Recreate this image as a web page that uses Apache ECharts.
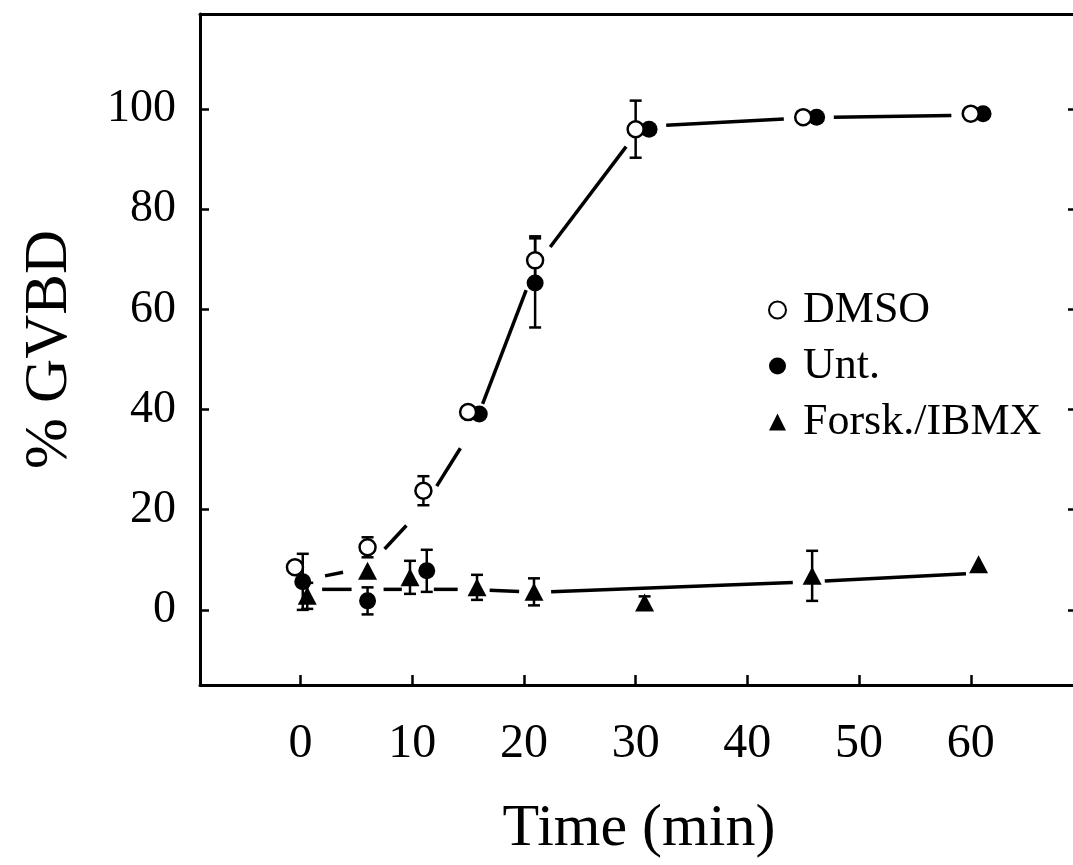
<!DOCTYPE html>
<html lang="en">
<head>
<meta charset="UTF-8">
<title>GVBD time course</title>
<script src="https://cdn.jsdelivr.net/npm/echarts@6/dist/echarts.min.js"></script>
</head>
<body style="margin:0; background:#fff">
<div id="container" style="width:1073px; height:865px"></div>
<script>
// measured points (time offsets kept as plotted, so markers sit side by side)
var dmsoTime = [-0.5, 6, 11, 15, 21, 30, 45, 60];
var dmsoGvbd = [8.5, 12.5, 23.8, 39.5, 69.8, 96, 98.4, 99.1];
var dmsoErr = [0, 2, 2.9, 0, 4.8, 5.7, 0, 0];

var untTime = [0.2, 6, 11.3, 16, 21, 31.2, 46.2, 61.1];
var untGvbd = [5.6, 1.8, 7.8, 39.1, 65.3, 96, 98.4, 99.1];
var untErr = [5.6, 2.7, 4.2, 0, 8.9, 0, 0, 0];

var forskTime = [0.6, 6, 9.8, 15.8, 20.9, 30.8, 45.8, 60.7];
var forskGvbd = [2.8, 7.8, 6.5, 4.5, 3.6, 1.5, 6.8, 9.1];
var forskErr = [2.6, 0, 3.3, 2.5, 2.7, 1.2, 5, 0];

// the two drawn curves (broken around each vertex)
var upperTime = [0, 6, 11, 15.5, 21, 30.5, 45.5, 60.5];
var upperGvbd = [5.8, 8.5, 20.5, 36.5, 68.5, 96.5, 98.3, 98.8];
var lowerTime = [0.5, 6, 10.5, 15.5, 21, 45.5, 61];
var lowerGvbd = [4.1, 4.1, 4.1, 4.1, 3.5, 5.6, 7.4];

var xTicks = [0, 10, 20, 30, 40, 50, 60];
var yTicks = [0, 20, 40, 60, 80, 100];

var serif = 'Liberation Serif';

function pairs(xs, ys) {
    return xs.map(function (x, i) { return [x, ys[i]]; });
}
function segments(xs, ys) {
    var out = [];
    for (var i = 0; i < xs.length - 1; i++) out.push([xs[i], ys[i], xs[i + 1], ys[i + 1]]);
    return out;
}
function bars(xs, ys, es) {
    var out = [];
    xs.forEach(function (x, i) { if (es[i] > 0) out.push([x, ys[i], es[i]]); });
    return out;
}

// line piece between two vertices, cut back by `gap` px at each end
function gapSegment(gap) {
    return function (params, api) {
        var p0 = api.coord([api.value(0), api.value(1)]);
        var p1 = api.coord([api.value(2), api.value(3)]);
        var dx = p1[0] - p0[0], dy = p1[1] - p0[1];
        var len = Math.sqrt(dx * dx + dy * dy);
        if (len <= 2 * gap) return;
        var ux = dx / len, uy = dy / len;
        return {
            type: 'line',
            shape: { x1: p0[0] + ux * gap, y1: p0[1] + uy * gap, x2: p1[0] - ux * gap, y2: p1[1] - uy * gap },
            style: { stroke: '#000', lineWidth: 3.5 }
        };
    };
}

function errorBar(params, api) {
    var x = api.value(0), y = api.value(1), e = api.value(2);
    var top = api.coord([x, y + e]);
    var bot = api.coord([x, y - e]);
    var w = 6;
    var st = { stroke: '#000', lineWidth: 2.5 };
    return {
        type: 'group',
        children: [
            { type: 'line', shape: { x1: top[0], y1: top[1], x2: bot[0], y2: bot[1] }, style: st },
            { type: 'line', shape: { x1: top[0] - w, y1: top[1], x2: top[0] + w, y2: top[1] }, style: st },
            { type: 'line', shape: { x1: bot[0] - w, y1: bot[1], x2: bot[0] + w, y2: bot[1] }, style: st }
        ]
    };
}

var chart = echarts.init(document.getElementById('container'));

var axisLine = { show: true, onZero: false, lineStyle: { color: '#000', width: 3 } };
var tickStyle = { color: '#000', width: 2.5 };

var option = {
    backgroundColor: '#fff',
    animation: false,
    grid: { left: 200, right: -5, top: 14, bottom: 180, outerBoundsMode: 'none' },
    legend: {
        data: ['DMSO', 'Unt.', 'Forsk./IBMX'],
        orient: 'vertical',
        left: 763,
        top: 283,
        itemWidth: 17,
        itemHeight: 17,
        itemGap: 12,
        selectedMode: false,
        textStyle: { fontFamily: serif, fontSize: 44, color: '#000', lineHeight: 44, padding: [0, 0, 0, 12] }
    },
    xAxis: [{
        type: 'value', min: -9, max: 69.6, position: 'bottom',
        axisLine: axisLine,
        axisTick: { inside: true, length: 10, lineStyle: tickStyle, customValues: xTicks },
        axisLabel: { customValues: xTicks, fontFamily: serif, fontSize: 48, color: '#000', margin: 35 },
        splitLine: { show: false },
        name: 'Time (min)', nameLocation: 'middle', nameGap: 114,
        nameTextStyle: { fontFamily: serif, fontSize: 60, color: '#000' }
    }, {
        type: 'value', min: -9, max: 69.6, position: 'top',
        axisLine: axisLine, axisTick: { show: false }, axisLabel: { show: false }, splitLine: { show: false }
    }],
    yAxis: [{
        type: 'value', min: -15, max: 119, position: 'left',
        axisLine: axisLine,
        axisTick: { inside: true, length: 9, lineStyle: tickStyle, customValues: yTicks },
        axisLabel: { customValues: yTicks, fontFamily: serif, fontSize: 46, color: '#000', margin: 24 },
        splitLine: { show: false },
        name: '% GVBD', nameLocation: 'middle', nameRotate: 90, nameGap: 120,
        nameTextStyle: { fontFamily: serif, fontSize: 61, color: '#000' }
    }, {
        type: 'value', min: -15, max: 119, position: 'right',
        axisLine: axisLine,
        axisTick: { inside: true, length: 10, lineStyle: tickStyle, customValues: yTicks },
        axisLabel: { show: false }, splitLine: { show: false }
    }],
    series: [{
        name: 'upper curve', type: 'custom', silent: true, z: 2,
        renderItem: gapSegment(25), data: segments(upperTime, upperGvbd)
    }, {
        name: 'lower curve', type: 'custom', silent: true, z: 2,
        renderItem: gapSegment(16), data: segments(lowerTime, lowerGvbd)
    }, {
        name: 'err dmso', type: 'custom', silent: true, z: 3,
        renderItem: errorBar, data: bars(dmsoTime, dmsoGvbd, dmsoErr)
    }, {
        name: 'err unt', type: 'custom', silent: true, z: 3,
        renderItem: errorBar, data: bars(untTime, untGvbd, untErr)
    }, {
        name: 'err forsk', type: 'custom', silent: true, z: 3,
        renderItem: errorBar, data: bars(forskTime, forskGvbd, forskErr)
    }, {
        name: 'Forsk./IBMX', type: 'scatter', silent: true, z: 4,
        symbol: 'triangle', symbolSize: [19, 18],
        itemStyle: { color: '#000', opacity: 1 },
        data: pairs(forskTime, forskGvbd)
    }, {
        name: 'Unt.', type: 'scatter', silent: true, z: 5,
        symbol: 'circle', symbolSize: 17,
        itemStyle: { color: '#000', opacity: 1 },
        data: pairs(untTime, untGvbd)
    }, {
        name: 'DMSO', type: 'scatter', silent: true, z: 6,
        symbol: 'circle', symbolSize: 16,
        itemStyle: { color: '#fff', borderColor: '#000', borderWidth: 2.5, opacity: 1 },
        data: pairs(dmsoTime, dmsoGvbd)
    }]
};

chart.setOption(option);
</script>
</body>
</html>
